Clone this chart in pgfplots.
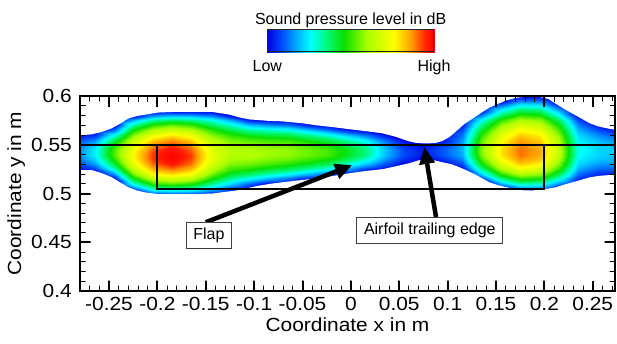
\documentclass[border=0pt]{standalone}
\usepackage{fontspec}
\setmainfont{Liberation Sans}
\newfontfamily\widefont[FakeStretch=1.1]{Liberation Sans}
\usepackage{pgfplots}
\pgfplotsset{compat=1.18}
\usetikzlibrary{arrows.meta}
\pgfplotsset{colormap={spl}{rgb255(0cm)=(0,0,225); rgb255(1cm)=(0,90,255); rgb255(2cm)=(0,200,255); rgb255(2.6cm)=(0,255,255); rgb255(3.5cm)=(0,250,130); rgb255(4.6cm)=(10,225,0); rgb255(6cm)=(170,255,0); rgb255(7.6cm)=(255,255,0); rgb255(8.7cm)=(255,150,0); rgb255(9.5cm)=(255,30,0); rgb255(10cm)=(255,0,0)}}
\pgfplotsset{mainbox/.style={at={(0pt,0pt)}, anchor=south west, scale only axis, width=535pt, height=195pt, xmin=-0.28, xmax=0.273, ymin=0.4, ymax=0.6}}
\begin{document}
\begin{tikzpicture}
% field, outlines, annotations and tick marks (axis hidden; the frame is drawn by the next axis)
\begin{axis}[mainbox, hide axis, colormap name=spl, point meta min=0, point meta max=1]
\addplot[surf, shader=interp, point meta=explicit] table[x=x, y=y, meta=v] {
x y v
-0.285 0.500 0
-0.265 0.500 0
-0.245 0.500 0
-0.225 0.500 0
-0.205 0.500 0.092
-0.185 0.500 0.098
-0.165 0.500 0.091
-0.145 0.500 0.035
-0.125 0.500 0
-0.105 0.500 0
-0.085 0.500 0
-0.065 0.500 0
-0.045 0.500 0
-0.025 0.500 0
-0.005 0.500 0
0.015 0.500 0
0.035 0.500 0
0.055 0.500 0
0.075 0.500 0
0.095 0.500 0
0.115 0.500 0
0.135 0.500 0
0.155 0.500 0
0.175 0.500 0
0.195 0.500 0
0.215 0.500 0
0.235 0.500 0
0.255 0.500 0
0.275 0.500 0

-0.285 0.505 0
-0.265 0.505 0
-0.245 0.505 0
-0.225 0.505 0.082
-0.205 0.505 0.300
-0.185 0.505 0.319
-0.165 0.505 0.297
-0.145 0.505 0.200
-0.125 0.505 0.077
-0.105 0.505 0
-0.085 0.505 0
-0.065 0.505 0
-0.045 0.505 0
-0.025 0.505 0
-0.005 0.505 0
0.015 0.505 0
0.035 0.505 0
0.055 0.505 0
0.075 0.505 0
0.095 0.505 0
0.115 0.505 0
0.135 0.505 0
0.155 0.505 0
0.175 0.505 0.109
0.195 0.505 0.103
0.215 0.505 0
0.235 0.505 0
0.255 0.505 0
0.275 0.505 0

-0.285 0.510 0
-0.265 0.510 0
-0.245 0.510 0
-0.225 0.510 0.267
-0.205 0.510 0.479
-0.185 0.510 0.510
-0.165 0.510 0.474
-0.145 0.510 0.341
-0.125 0.510 0.214
-0.105 0.510 0.102
-0.085 0.510 0
-0.065 0.510 0
-0.045 0.510 0
-0.025 0.510 0
-0.005 0.510 0
0.015 0.510 0
0.035 0.510 0
0.055 0.510 0
0.075 0.510 0
0.095 0.510 0
0.115 0.510 0
0.135 0.510 0
0.155 0.510 0.161
0.175 0.510 0.306
0.195 0.510 0.289
0.215 0.510 0.131
0.235 0.510 0
0.255 0.510 0
0.275 0.510 0

-0.285 0.515 0
-0.265 0.515 0
-0.245 0.515 0
-0.225 0.515 0.422
-0.205 0.515 0.629
-0.185 0.515 0.669
-0.165 0.515 0.622
-0.145 0.515 0.461
-0.125 0.515 0.332
-0.105 0.515 0.252
-0.085 0.515 0.171
-0.065 0.515 0.108
-0.045 0.515 0.020
-0.025 0.515 0
-0.005 0.515 0
0.015 0.515 0
0.035 0.515 0
0.055 0.515 0
0.075 0.515 0
0.095 0.515 0
0.115 0.515 0
0.135 0.515 0.037
0.155 0.515 0.337
0.175 0.515 0.475
0.195 0.515 0.448
0.215 0.515 0.273
0.235 0.515 0.048
0.255 0.515 0
0.275 0.515 0

-0.285 0.520 0
-0.265 0.520 0
-0.245 0.520 0.148
-0.225 0.520 0.548
-0.205 0.520 0.750
-0.185 0.520 0.798
-0.165 0.520 0.742
-0.145 0.520 0.557
-0.125 0.520 0.429
-0.105 0.520 0.376
-0.085 0.520 0.313
-0.065 0.520 0.264
-0.045 0.520 0.193
-0.025 0.520 0.113
-0.005 0.520 0
0.015 0.520 0
0.035 0.520 0
0.055 0.520 0
0.075 0.520 0
0.095 0.520 0
0.115 0.520 0
0.135 0.520 0.202
0.155 0.520 0.485
0.175 0.520 0.615
0.195 0.520 0.581
0.215 0.520 0.393
0.235 0.520 0.118
0.255 0.520 0.046
0.275 0.520 0.032

-0.285 0.525 0.013
-0.265 0.525 0.069
-0.245 0.525 0.297
-0.225 0.525 0.645
-0.205 0.525 0.841
-0.185 0.525 0.894
-0.165 0.525 0.831
-0.145 0.525 0.632
-0.125 0.525 0.507
-0.105 0.525 0.474
-0.085 0.525 0.427
-0.065 0.525 0.388
-0.045 0.525 0.332
-0.025 0.525 0.270
-0.005 0.525 0.174
0.015 0.525 0.068
0.035 0.525 0
0.055 0.525 0
0.075 0.525 0
0.095 0.525 0
0.115 0.525 0
0.135 0.525 0.335
0.155 0.525 0.603
0.175 0.525 0.728
0.195 0.525 0.687
0.215 0.525 0.488
0.235 0.525 0.175
0.255 0.525 0.111
0.275 0.525 0.100

-0.285 0.530 0.067
-0.265 0.530 0.160
-0.245 0.530 0.409
-0.225 0.530 0.713
-0.205 0.530 0.902
-0.185 0.530 0.960
-0.165 0.530 0.893
-0.145 0.530 0.684
-0.125 0.530 0.564
-0.105 0.530 0.547
-0.085 0.530 0.511
-0.065 0.530 0.482
-0.045 0.530 0.438
-0.025 0.530 0.389
-0.005 0.530 0.305
0.015 0.530 0.206
0.035 0.530 0.088
0.055 0.530 0
0.075 0.530 0
0.095 0.530 0
0.115 0.530 0.082
0.135 0.530 0.438
0.155 0.530 0.693
0.175 0.530 0.812
0.195 0.530 0.767
0.215 0.530 0.561
0.235 0.530 0.218
0.255 0.530 0.161
0.275 0.530 0.150

-0.285 0.535 0.102
-0.265 0.535 0.219
-0.245 0.535 0.482
-0.225 0.535 0.751
-0.205 0.535 0.935
-0.185 0.535 0.994
-0.165 0.535 0.924
-0.145 0.535 0.713
-0.125 0.535 0.601
-0.105 0.535 0.593
-0.085 0.535 0.566
-0.065 0.535 0.546
-0.045 0.535 0.508
-0.025 0.535 0.468
-0.005 0.535 0.394
0.015 0.535 0.300
0.035 0.535 0.157
0.055 0.535 0.051
0.075 0.535 0.002
0.095 0.535 0.054
0.115 0.535 0.140
0.135 0.535 0.510
0.155 0.535 0.753
0.175 0.535 0.868
0.195 0.535 0.820
0.215 0.535 0.610
0.235 0.535 0.249
0.255 0.535 0.196
0.275 0.535 0.183

-0.285 0.540 0.119
-0.265 0.540 0.248
-0.245 0.540 0.517
-0.225 0.540 0.760
-0.205 0.540 0.938
-0.185 0.540 0.998
-0.165 0.540 0.928
-0.145 0.540 0.720
-0.125 0.540 0.619
-0.105 0.540 0.614
-0.085 0.540 0.592
-0.065 0.540 0.579
-0.045 0.540 0.545
-0.025 0.540 0.510
-0.005 0.540 0.440
0.015 0.540 0.352
0.035 0.540 0.193
0.055 0.540 0.077
0.075 0.540 0.026
0.095 0.540 0.092
0.115 0.540 0.172
0.135 0.540 0.550
0.155 0.540 0.785
0.175 0.540 0.896
0.195 0.540 0.846
0.215 0.540 0.636
0.235 0.540 0.266
0.255 0.540 0.215
0.275 0.540 0.199

-0.285 0.545 0.116
-0.265 0.545 0.244
-0.245 0.545 0.513
-0.225 0.545 0.744
-0.205 0.545 0.918
-0.185 0.545 0.978
-0.165 0.545 0.910
-0.145 0.545 0.708
-0.125 0.545 0.616
-0.105 0.545 0.608
-0.085 0.545 0.589
-0.065 0.545 0.580
-0.045 0.545 0.547
-0.025 0.545 0.512
-0.005 0.545 0.445
0.015 0.545 0.361
0.035 0.545 0.198
0.055 0.545 0.077
0.075 0.545 0.028
0.095 0.545 0.099
0.115 0.545 0.180
0.135 0.545 0.560
0.155 0.545 0.789
0.175 0.545 0.898
0.195 0.545 0.848
0.215 0.545 0.639
0.235 0.545 0.270
0.255 0.545 0.220
0.275 0.545 0.197

-0.285 0.550 0.096
-0.265 0.550 0.210
-0.245 0.550 0.471
-0.225 0.550 0.705
-0.205 0.550 0.876
-0.185 0.550 0.935
-0.165 0.550 0.870
-0.145 0.550 0.679
-0.125 0.550 0.593
-0.105 0.550 0.578
-0.085 0.550 0.558
-0.065 0.550 0.551
-0.045 0.550 0.514
-0.025 0.550 0.475
-0.005 0.550 0.407
0.015 0.550 0.327
0.035 0.550 0.171
0.055 0.550 0.051
0.075 0.550 0.009
0.095 0.550 0.073
0.115 0.550 0.172
0.135 0.550 0.549
0.155 0.550 0.776
0.175 0.550 0.884
0.195 0.550 0.835
0.215 0.550 0.627
0.235 0.550 0.263
0.255 0.550 0.209
0.275 0.550 0.178

-0.285 0.555 0.058
-0.265 0.555 0.144
-0.245 0.555 0.390
-0.225 0.555 0.644
-0.205 0.555 0.811
-0.185 0.555 0.869
-0.165 0.555 0.808
-0.145 0.555 0.633
-0.125 0.555 0.550
-0.105 0.555 0.520
-0.085 0.555 0.499
-0.065 0.555 0.491
-0.045 0.555 0.447
-0.025 0.555 0.399
-0.005 0.555 0.326
0.015 0.555 0.250
0.035 0.555 0.113
0.055 0.555 0
0.075 0.555 0
0.095 0.555 0.015
0.115 0.555 0.152
0.135 0.555 0.521
0.155 0.555 0.748
0.175 0.555 0.857
0.195 0.555 0.809
0.215 0.555 0.603
0.235 0.555 0.246
0.255 0.555 0.183
0.275 0.555 0.141

-0.285 0.560 0
-0.265 0.560 0.048
-0.245 0.560 0.271
-0.225 0.560 0.561
-0.205 0.560 0.725
-0.185 0.560 0.781
-0.165 0.560 0.726
-0.145 0.560 0.570
-0.125 0.560 0.486
-0.105 0.560 0.439
-0.085 0.560 0.411
-0.065 0.560 0.399
-0.045 0.560 0.345
-0.025 0.560 0.284
-0.005 0.560 0.204
0.015 0.560 0.129
0.035 0.560 0.022
0.055 0.560 0
0.075 0.560 0
0.095 0.560 0
0.115 0.560 0.121
0.135 0.560 0.479
0.155 0.560 0.705
0.175 0.560 0.815
0.195 0.560 0.770
0.215 0.560 0.566
0.235 0.560 0.220
0.255 0.560 0.143
0.275 0.560 0.088

-0.285 0.565 0
-0.265 0.565 0
-0.245 0.565 0.113
-0.225 0.565 0.455
-0.205 0.565 0.616
-0.185 0.565 0.670
-0.165 0.565 0.623
-0.145 0.565 0.490
-0.125 0.565 0.403
-0.105 0.565 0.330
-0.085 0.565 0.297
-0.065 0.565 0.278
-0.045 0.565 0.209
-0.025 0.565 0.131
-0.005 0.565 0.038
0.015 0.565 0
0.035 0.565 0
0.055 0.565 0
0.075 0.565 0
0.095 0.565 0
0.115 0.565 0.079
0.135 0.565 0.420
0.155 0.565 0.649
0.175 0.565 0.760
0.195 0.565 0.718
0.215 0.565 0.516
0.235 0.565 0.183
0.255 0.565 0.087
0.275 0.565 0.016

-0.285 0.570 0
-0.265 0.570 0
-0.245 0.570 0
-0.225 0.570 0.325
-0.205 0.570 0.485
-0.185 0.570 0.536
-0.165 0.570 0.498
-0.145 0.570 0.393
-0.125 0.570 0.299
-0.105 0.570 0.195
-0.085 0.570 0.153
-0.065 0.570 0.125
-0.045 0.570 0.039
-0.025 0.570 0
-0.005 0.570 0
0.015 0.570 0
0.035 0.570 0
0.055 0.570 0
0.075 0.570 0
0.095 0.570 0
0.115 0.570 0.025
0.135 0.570 0.345
0.155 0.570 0.577
0.175 0.570 0.690
0.195 0.570 0.652
0.215 0.570 0.453
0.235 0.570 0.137
0.255 0.570 0.016
0.275 0.570 0

-0.285 0.575 0
-0.265 0.575 0
-0.245 0.575 0
-0.225 0.575 0.174
-0.205 0.575 0.332
-0.185 0.575 0.380
-0.165 0.575 0.353
-0.145 0.575 0.279
-0.125 0.575 0.175
-0.105 0.575 0.035
-0.085 0.575 0
-0.065 0.575 0
-0.045 0.575 0
-0.025 0.575 0
-0.005 0.575 0
0.015 0.575 0
0.035 0.575 0
0.055 0.575 0
0.075 0.575 0
0.095 0.575 0
0.115 0.575 0
0.135 0.575 0.255
0.155 0.575 0.491
0.175 0.575 0.607
0.195 0.575 0.573
0.215 0.575 0.378
0.235 0.575 0.080
0.255 0.575 0
0.275 0.575 0

-0.285 0.580 0
-0.265 0.580 0
-0.245 0.580 0
-0.225 0.580 0
-0.205 0.580 0.156
-0.185 0.580 0.201
-0.165 0.580 0.187
-0.145 0.580 0.148
-0.125 0.580 0.031
-0.105 0.580 0
-0.085 0.580 0
-0.065 0.580 0
-0.045 0.580 0
-0.025 0.580 0
-0.005 0.580 0
0.015 0.580 0
0.035 0.580 0
0.055 0.580 0
0.075 0.580 0
0.095 0.580 0
0.115 0.580 0
0.135 0.580 0.148
0.155 0.580 0.389
0.175 0.580 0.511
0.195 0.580 0.483
0.215 0.580 0.289
0.235 0.580 0.014
0.255 0.580 0
0.275 0.580 0

-0.285 0.585 0
-0.265 0.585 0
-0.245 0.585 0
-0.225 0.585 0
-0.205 0.585 0
-0.185 0.585 0
-0.165 0.585 0
-0.145 0.585 0
-0.125 0.585 0
-0.105 0.585 0
-0.085 0.585 0
-0.065 0.585 0
-0.045 0.585 0
-0.025 0.585 0
-0.005 0.585 0
0.015 0.585 0
0.035 0.585 0
0.055 0.585 0
0.075 0.585 0
0.095 0.585 0
0.115 0.585 0
0.135 0.585 0.026
0.155 0.585 0.275
0.175 0.585 0.400
0.195 0.585 0.378
0.215 0.585 0.188
0.235 0.585 0
0.255 0.585 0
0.275 0.585 0

-0.285 0.590 0
-0.265 0.590 0
-0.245 0.590 0
-0.225 0.590 0
-0.205 0.590 0
-0.185 0.590 0
-0.165 0.590 0
-0.145 0.590 0
-0.125 0.590 0
-0.105 0.590 0
-0.085 0.590 0
-0.065 0.590 0
-0.045 0.590 0
-0.025 0.590 0
-0.005 0.590 0
0.015 0.590 0
0.035 0.590 0
0.055 0.590 0
0.075 0.590 0
0.095 0.590 0
0.115 0.590 0
0.135 0.590 0
0.155 0.590 0.144
0.175 0.590 0.275
0.195 0.590 0.260
0.215 0.590 0.074
0.235 0.590 0
0.255 0.590 0
0.275 0.590 0

-0.285 0.595 0
-0.265 0.595 0
-0.245 0.595 0
-0.225 0.595 0
-0.205 0.595 0
-0.185 0.595 0
-0.165 0.595 0
-0.145 0.595 0
-0.125 0.595 0
-0.105 0.595 0
-0.085 0.595 0
-0.065 0.595 0
-0.045 0.595 0
-0.025 0.595 0
-0.005 0.595 0
0.015 0.595 0
0.035 0.595 0
0.055 0.595 0
0.075 0.595 0
0.095 0.595 0
0.115 0.595 0
0.135 0.595 0
0.155 0.595 0
0.175 0.595 0.137
0.195 0.595 0.129
0.215 0.595 0
0.235 0.595 0
0.255 0.595 0
0.275 0.595 0

-0.285 0.600 0
-0.265 0.600 0
-0.245 0.600 0
-0.225 0.600 0
-0.205 0.600 0
-0.185 0.600 0
-0.165 0.600 0
-0.145 0.600 0
-0.125 0.600 0
-0.105 0.600 0
-0.085 0.600 0
-0.065 0.600 0
-0.045 0.600 0
-0.025 0.600 0
-0.005 0.600 0
0.015 0.600 0
0.035 0.600 0
0.055 0.600 0
0.075 0.600 0
0.095 0.600 0
0.115 0.600 0
0.135 0.600 0
0.155 0.600 0
0.175 0.600 0
0.195 0.600 0
0.215 0.600 0
0.235 0.600 0
0.255 0.600 0
0.275 0.600 0
};
% white outside the contour region (top and bottom boundaries)
\addplot[fill=white, draw=none] coordinates {(-0.29,0.61) (-0.29,0.5596) (-0.28,0.5596) (-0.268,0.5607) (-0.258,0.563) (-0.247,0.567) (-0.238,0.572) (-0.23,0.577) (-0.221,0.5795) (-0.212,0.581) (-0.2,0.583) (-0.185,0.5836) (-0.165,0.5836) (-0.143,0.5836) (-0.126,0.581) (-0.115,0.578) (-0.105,0.576) (-0.085,0.5745) (-0.071,0.574) (-0.05,0.572) (-0.036,0.570) (-0.018,0.568) (-0.002,0.566) (0.015,0.564) (0.033,0.5617) (0.047,0.558) (0.060,0.5535) (0.067,0.552) (0.074,0.5515) (0.082,0.5515) (0.088,0.552) (0.095,0.554) (0.102,0.558) (0.109,0.564) (0.117,0.571) (0.126,0.577) (0.135,0.583) (0.143,0.588) (0.152,0.592) (0.161,0.5956) (0.170,0.598) (0.178,0.599) (0.187,0.5995) (0.195,0.599) (0.204,0.597) (0.212,0.592) (0.22,0.587) (0.229,0.582) (0.238,0.577) (0.247,0.572) (0.255,0.569) (0.264,0.567) (0.275,0.565) (0.28,0.565) (0.28,0.61)};
\addplot[fill=white, draw=none] coordinates {(-0.29,0.39) (-0.29,0.524) (-0.28,0.524) (-0.268,0.524) (-0.258,0.521) (-0.247,0.5166) (-0.238,0.511) (-0.23,0.5064) (-0.221,0.503) (-0.212,0.501) (-0.2,0.4995) (-0.185,0.499) (-0.167,0.499) (-0.155,0.4995) (-0.143,0.500) (-0.131,0.5015) (-0.119,0.503) (-0.107,0.5055) (-0.095,0.508) (-0.083,0.510) (-0.071,0.5115) (-0.053,0.5135) (-0.036,0.5155) (-0.018,0.518) (-0.002,0.5207) (0.015,0.523) (0.033,0.525) (0.047,0.528) (0.060,0.531) (0.070,0.534) (0.078,0.535) (0.086,0.534) (0.095,0.532) (0.104,0.530) (0.112,0.527) (0.12,0.5235) (0.126,0.5207) (0.135,0.516) (0.143,0.5115) (0.152,0.5085) (0.161,0.5064) (0.17,0.504) (0.178,0.5033) (0.187,0.503) (0.195,0.504) (0.204,0.505) (0.212,0.5064) (0.22,0.509) (0.229,0.5115) (0.238,0.514) (0.247,0.5166) (0.256,0.518) (0.264,0.5187) (0.28,0.519) (0.28,0.39)};
% airfoil / flap outline
\addplot[black, line width=2pt] coordinates {(-0.29,0.55) (0.28,0.55)};
\addplot[black, line width=2pt] coordinates {(-0.2,0.55) (-0.2,0.505) (0.2,0.505) (0.2,0.55)};
% arrows
\addplot[black, line width=4.5pt, -{Triangle[length=17pt,width=15pt]}] coordinates {(-0.15,0.4705) (0.0013,0.529)};
\addplot[black, line width=4.5pt, -{Triangle[length=17pt,width=15pt]}] coordinates {(0.088,0.4759) (0.0759,0.5477)};
% major tick marks (inside, all four sides)
\addplot[black, line width=2pt, line join=bevel] coordinates {(-0.25,0.4) (-0.25,0.41077) (-0.25,0.4) (-0.2,0.4) (-0.2,0.41077) (-0.2,0.4) (-0.15,0.4) (-0.15,0.41077) (-0.15,0.4) (-0.1,0.4) (-0.1,0.41077) (-0.1,0.4) (-0.05,0.4) (-0.05,0.41077) (-0.05,0.4) (0,0.4) (0,0.41077) (0,0.4) (0.05,0.4) (0.05,0.41077) (0.05,0.4) (0.1,0.4) (0.1,0.41077) (0.1,0.4) (0.15,0.4) (0.15,0.41077) (0.15,0.4) (0.2,0.4) (0.2,0.41077) (0.2,0.4) (0.25,0.4) (0.25,0.41077)};
\addplot[black, line width=2pt, line join=bevel] coordinates {(-0.25,0.6) (-0.25,0.58923) (-0.25,0.6) (-0.2,0.6) (-0.2,0.58923) (-0.2,0.6) (-0.15,0.6) (-0.15,0.58923) (-0.15,0.6) (-0.1,0.6) (-0.1,0.58923) (-0.1,0.6) (-0.05,0.6) (-0.05,0.58923) (-0.05,0.6) (0,0.6) (0,0.58923) (0,0.6) (0.05,0.6) (0.05,0.58923) (0.05,0.6) (0.1,0.6) (0.1,0.58923) (0.1,0.6) (0.15,0.6) (0.15,0.58923) (0.15,0.6) (0.2,0.6) (0.2,0.58923) (0.2,0.6) (0.25,0.6) (0.25,0.58923)};
\addplot[black, line width=2pt, line join=bevel] coordinates {(-0.28,0.45) (-0.26914,0.45) (-0.28,0.45) (-0.28,0.5) (-0.26914,0.5) (-0.28,0.5) (-0.28,0.55) (-0.26914,0.55)};
\addplot[black, line width=2pt, line join=bevel] coordinates {(0.273,0.45) (0.26214,0.45) (0.273,0.45) (0.273,0.5) (0.26214,0.5) (0.273,0.5) (0.273,0.55) (0.26214,0.55)};
% minor tick marks
\addplot[black, line width=0.9pt, line join=bevel] coordinates {(-0.27,0.4) (-0.27,0.40564) (-0.27,0.4) (-0.26,0.4) (-0.26,0.40564) (-0.26,0.4) (-0.24,0.4) (-0.24,0.40564) (-0.24,0.4) (-0.23,0.4) (-0.23,0.40564) (-0.23,0.4) (-0.22,0.4) (-0.22,0.40564) (-0.22,0.4) (-0.21,0.4) (-0.21,0.40564) (-0.21,0.4) (-0.19,0.4) (-0.19,0.40564) (-0.19,0.4) (-0.18,0.4) (-0.18,0.40564) (-0.18,0.4) (-0.17,0.4) (-0.17,0.40564) (-0.17,0.4) (-0.16,0.4) (-0.16,0.40564) (-0.16,0.4) (-0.14,0.4) (-0.14,0.40564) (-0.14,0.4) (-0.13,0.4) (-0.13,0.40564) (-0.13,0.4) (-0.12,0.4) (-0.12,0.40564) (-0.12,0.4) (-0.11,0.4) (-0.11,0.40564) (-0.11,0.4) (-0.09,0.4) (-0.09,0.40564) (-0.09,0.4) (-0.08,0.4) (-0.08,0.40564) (-0.08,0.4) (-0.07,0.4) (-0.07,0.40564) (-0.07,0.4) (-0.06,0.4) (-0.06,0.40564) (-0.06,0.4) (-0.04,0.4) (-0.04,0.40564) (-0.04,0.4) (-0.03,0.4) (-0.03,0.40564) (-0.03,0.4) (-0.02,0.4) (-0.02,0.40564) (-0.02,0.4) (-0.01,0.4) (-0.01,0.40564) (-0.01,0.4) (0.01,0.4) (0.01,0.40564) (0.01,0.4) (0.02,0.4) (0.02,0.40564) (0.02,0.4) (0.03,0.4) (0.03,0.40564) (0.03,0.4) (0.04,0.4) (0.04,0.40564) (0.04,0.4) (0.06,0.4) (0.06,0.40564) (0.06,0.4) (0.07,0.4) (0.07,0.40564) (0.07,0.4) (0.08,0.4) (0.08,0.40564) (0.08,0.4) (0.09,0.4) (0.09,0.40564) (0.09,0.4) (0.11,0.4) (0.11,0.40564) (0.11,0.4) (0.12,0.4) (0.12,0.40564) (0.12,0.4) (0.13,0.4) (0.13,0.40564) (0.13,0.4) (0.14,0.4) (0.14,0.40564) (0.14,0.4) (0.16,0.4) (0.16,0.40564) (0.16,0.4) (0.17,0.4) (0.17,0.40564) (0.17,0.4) (0.18,0.4) (0.18,0.40564) (0.18,0.4) (0.19,0.4) (0.19,0.40564) (0.19,0.4) (0.21,0.4) (0.21,0.40564) (0.21,0.4) (0.22,0.4) (0.22,0.40564) (0.22,0.4) (0.23,0.4) (0.23,0.40564) (0.23,0.4) (0.24,0.4) (0.24,0.40564) (0.24,0.4) (0.26,0.4) (0.26,0.40564) (0.26,0.4) (0.27,0.4) (0.27,0.40564)};
\addplot[black, line width=0.9pt, line join=bevel] coordinates {(-0.27,0.6) (-0.27,0.59436) (-0.27,0.6) (-0.26,0.6) (-0.26,0.59436) (-0.26,0.6) (-0.24,0.6) (-0.24,0.59436) (-0.24,0.6) (-0.23,0.6) (-0.23,0.59436) (-0.23,0.6) (-0.22,0.6) (-0.22,0.59436) (-0.22,0.6) (-0.21,0.6) (-0.21,0.59436) (-0.21,0.6) (-0.19,0.6) (-0.19,0.59436) (-0.19,0.6) (-0.18,0.6) (-0.18,0.59436) (-0.18,0.6) (-0.17,0.6) (-0.17,0.59436) (-0.17,0.6) (-0.16,0.6) (-0.16,0.59436) (-0.16,0.6) (-0.14,0.6) (-0.14,0.59436) (-0.14,0.6) (-0.13,0.6) (-0.13,0.59436) (-0.13,0.6) (-0.12,0.6) (-0.12,0.59436) (-0.12,0.6) (-0.11,0.6) (-0.11,0.59436) (-0.11,0.6) (-0.09,0.6) (-0.09,0.59436) (-0.09,0.6) (-0.08,0.6) (-0.08,0.59436) (-0.08,0.6) (-0.07,0.6) (-0.07,0.59436) (-0.07,0.6) (-0.06,0.6) (-0.06,0.59436) (-0.06,0.6) (-0.04,0.6) (-0.04,0.59436) (-0.04,0.6) (-0.03,0.6) (-0.03,0.59436) (-0.03,0.6) (-0.02,0.6) (-0.02,0.59436) (-0.02,0.6) (-0.01,0.6) (-0.01,0.59436) (-0.01,0.6) (0.01,0.6) (0.01,0.59436) (0.01,0.6) (0.02,0.6) (0.02,0.59436) (0.02,0.6) (0.03,0.6) (0.03,0.59436) (0.03,0.6) (0.04,0.6) (0.04,0.59436) (0.04,0.6) (0.06,0.6) (0.06,0.59436) (0.06,0.6) (0.07,0.6) (0.07,0.59436) (0.07,0.6) (0.08,0.6) (0.08,0.59436) (0.08,0.6) (0.09,0.6) (0.09,0.59436) (0.09,0.6) (0.11,0.6) (0.11,0.59436) (0.11,0.6) (0.12,0.6) (0.12,0.59436) (0.12,0.6) (0.13,0.6) (0.13,0.59436) (0.13,0.6) (0.14,0.6) (0.14,0.59436) (0.14,0.6) (0.16,0.6) (0.16,0.59436) (0.16,0.6) (0.17,0.6) (0.17,0.59436) (0.17,0.6) (0.18,0.6) (0.18,0.59436) (0.18,0.6) (0.19,0.6) (0.19,0.59436) (0.19,0.6) (0.21,0.6) (0.21,0.59436) (0.21,0.6) (0.22,0.6) (0.22,0.59436) (0.22,0.6) (0.23,0.6) (0.23,0.59436) (0.23,0.6) (0.24,0.6) (0.24,0.59436) (0.24,0.6) (0.26,0.6) (0.26,0.59436) (0.26,0.6) (0.27,0.6) (0.27,0.59436)};
\addplot[black, line width=0.9pt, line join=bevel] coordinates {(-0.28,0.41) (-0.27431,0.41) (-0.28,0.41) (-0.28,0.42) (-0.27431,0.42) (-0.28,0.42) (-0.28,0.43) (-0.27431,0.43) (-0.28,0.43) (-0.28,0.44) (-0.27431,0.44) (-0.28,0.44) (-0.28,0.46) (-0.27431,0.46) (-0.28,0.46) (-0.28,0.47) (-0.27431,0.47) (-0.28,0.47) (-0.28,0.48) (-0.27431,0.48) (-0.28,0.48) (-0.28,0.49) (-0.27431,0.49) (-0.28,0.49) (-0.28,0.51) (-0.27431,0.51) (-0.28,0.51) (-0.28,0.52) (-0.27431,0.52) (-0.28,0.52) (-0.28,0.53) (-0.27431,0.53) (-0.28,0.53) (-0.28,0.54) (-0.27431,0.54) (-0.28,0.54) (-0.28,0.56) (-0.27431,0.56) (-0.28,0.56) (-0.28,0.57) (-0.27431,0.57) (-0.28,0.57) (-0.28,0.58) (-0.27431,0.58) (-0.28,0.58) (-0.28,0.59) (-0.27431,0.59)};
\addplot[black, line width=0.9pt, line join=bevel] coordinates {(0.273,0.41) (0.26731,0.41) (0.273,0.41) (0.273,0.42) (0.26731,0.42) (0.273,0.42) (0.273,0.43) (0.26731,0.43) (0.273,0.43) (0.273,0.44) (0.26731,0.44) (0.273,0.44) (0.273,0.46) (0.26731,0.46) (0.273,0.46) (0.273,0.47) (0.26731,0.47) (0.273,0.47) (0.273,0.48) (0.26731,0.48) (0.273,0.48) (0.273,0.49) (0.26731,0.49) (0.273,0.49) (0.273,0.51) (0.26731,0.51) (0.273,0.51) (0.273,0.52) (0.26731,0.52) (0.273,0.52) (0.273,0.53) (0.26731,0.53) (0.273,0.53) (0.273,0.54) (0.26731,0.54) (0.273,0.54) (0.273,0.56) (0.26731,0.56) (0.273,0.56) (0.273,0.57) (0.26731,0.57) (0.273,0.57) (0.273,0.58) (0.26731,0.58) (0.273,0.58) (0.273,0.59) (0.26731,0.59)};
\node[draw=black!75, fill=white, line width=0.8pt, font=\fontsize{16}{19}\selectfont, inner xsep=7.2pt, inner ysep=0pt, minimum height=25.4pt] at (axis cs:-0.1467,0.4571) {Flap};
\node[draw=black!75, fill=white, line width=0.8pt, font=\fontsize{16}{19}\selectfont, inner xsep=7.2pt, inner ysep=0pt, minimum height=26.6pt] at (axis cs:0.0816,0.4623) {Airfoil trailing edge};
\end{axis}
% frame and labels on top
\begin{axis}[mainbox,
 xtick={-0.25,-0.2,-0.15,-0.1,-0.05,0,0.05,0.1,0.15,0.2,0.25},
 xticklabels={-0.25,-0.2,-0.15,-0.1,-0.05,0,0.05,0.1,0.15,0.2,0.25},
 ytick={0.4,0.45,0.5,0.55,0.6},
 yticklabels={0.4,0.45,0.5,0.55,0.6},
 minor x tick num=4, minor y tick num=4,
 tick align=inside,
 major tick length=10.5pt, minor tick length=5.5pt,
 major tick style={line width=2pt, black},
 minor tick style={line width=0.9pt, black},
 axis line style={line width=1.8pt},
 every x tick label/.style={font=\fontsize{19}{22}\widefont, anchor=base, inner sep=0pt, yshift=-19.7pt},
 every y tick label/.style={font=\fontsize{19}{22}\widefont, anchor=east, inner sep=0pt, xshift=-8pt},
 every axis x label/.style={at={(axis description cs:0.5,-0.2087)}, anchor=base, font=\fontsize{19}{22}\widefont},
 every axis y label/.style={at={(axis description cs:-0.119,0.5)}, rotate=90, anchor=center, font=\fontsize{19}{22}\widefont},
 xlabel={Coordinate x in m}, ylabel={Coordinate y in m},
]
\addplot[draw=none] coordinates {(0,0.5)};
\end{axis}
% colour scale
\begin{axis}[
 at={(187.3pt,238.7pt)}, anchor=south west,
 scale only axis, width=166.7pt, height=23pt,
 xmin=0, xmax=1, ymin=0, ymax=1, hide axis, clip=false,
 colormap name=spl, point meta min=0, point meta max=1,
]
\addplot[surf, shader=interp, point meta=explicit] table[x=x, y=y, meta=c] {
x y c
0 0 0
0.05 0 0.05
0.1 0 0.1
0.15 0 0.15
0.2 0 0.2
0.25 0 0.25
0.3 0 0.3
0.35 0 0.35
0.4 0 0.4
0.45 0 0.45
0.5 0 0.5
0.55 0 0.55
0.6 0 0.6
0.65 0 0.65
0.7 0 0.7
0.75 0 0.75
0.8 0 0.8
0.85 0 0.85
0.9 0 0.9
0.95 0 0.95
1 0 1

0 1 0
0.05 1 0.05
0.1 1 0.1
0.15 1 0.15
0.2 1 0.2
0.25 1 0.25
0.3 1 0.3
0.35 1 0.35
0.4 1 0.4
0.45 1 0.45
0.5 1 0.5
0.55 1 0.55
0.6 1 0.6
0.65 1 0.65
0.7 1 0.7
0.75 1 0.75
0.8 1 0.8
0.85 1 0.85
0.9 1 0.9
0.95 1 0.95
1 1 1
};
\addplot[draw=black!85, line width=0.9pt, line join=miter] coordinates {(0.0028,0.02) (0.9972,0.02) (0.9972,0.98) (0.0028,0.98) (0.0028,0.02)};
\node[font=\fontsize{16}{19}\selectfont, anchor=base, inner sep=0pt, yshift=-19.4pt] at (axis cs:0,0) {Low};
\node[font=\fontsize{16}{19}\selectfont, anchor=base, inner sep=0pt, yshift=-19.4pt] at (axis cs:1,0) {High};
\node[font=\fontsize{16}{19}\selectfont, anchor=base, inner sep=0pt, yshift=4.3pt] at (axis cs:0.5,1) {Sound pressure level in dB};
\end{axis}
\pgfresetboundingbox
\path[use as bounding box] (-80pt,-52pt) rectangle (537pt,291pt);
\end{tikzpicture}
\end{document}
